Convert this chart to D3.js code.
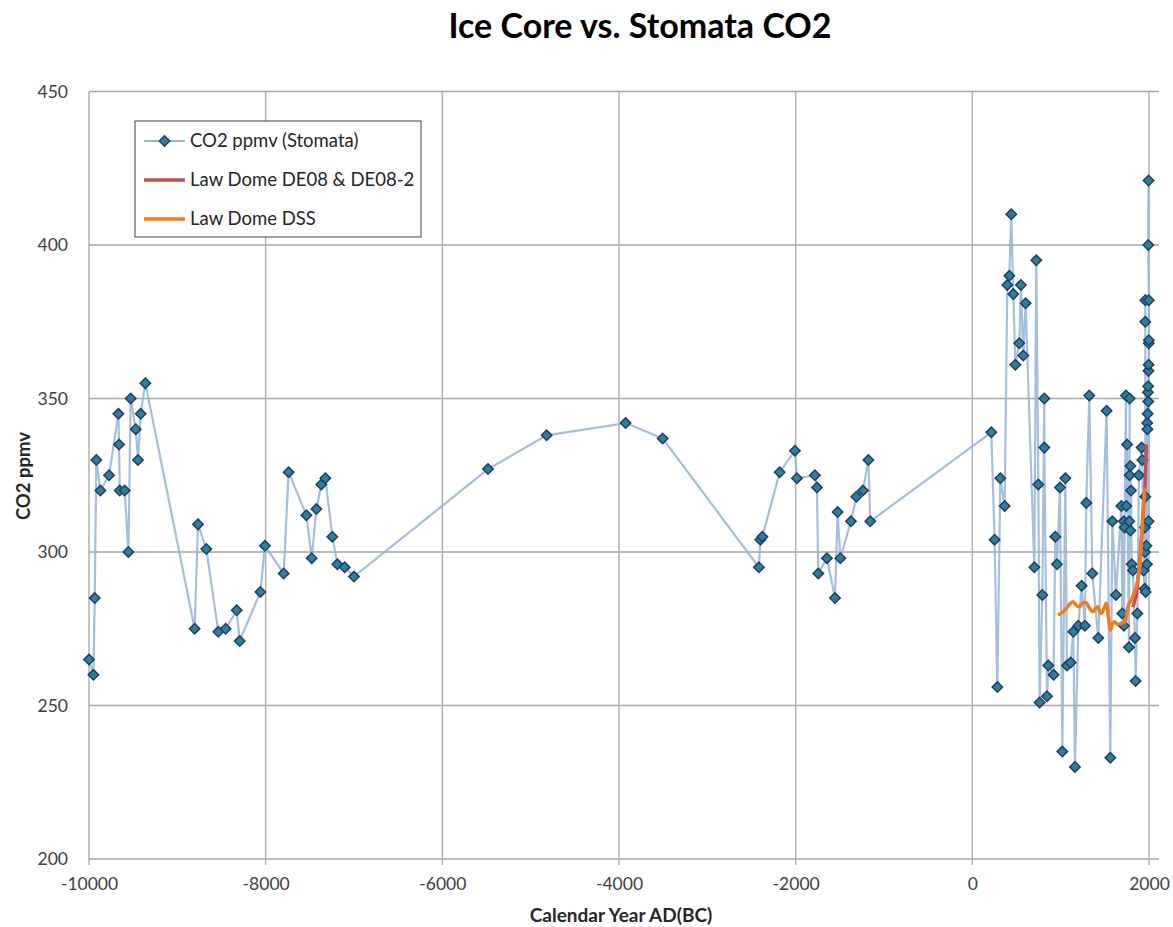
<!DOCTYPE html>
<html>
<head>
<meta charset="utf-8">
<script src="https://cdn.jsdelivr.net/npm/d3@7"></script>
<style>
  body { margin: 0; background: #fff; }
  svg { font-family: Lato, "Open Sans", sans-serif; }
</style>
</head>
<body>
<div class="chart"></div>
<script>
// data

var stomataYear = [-10000, -9950, -9935, -9917, -9871, -9773, -9667, -9660, -9652, -9596,
  -9554, -9528, -9471, -9445, -9415, -9362, -8804, -8766, -8672, -8536,
  -8453, -8328, -8294, -8060, -8008, -7796, -7740, -7539, -7479, -7426,
  -7370, -7324, -7245, -7188, -7105, -7000, -5483, -4819, -3925, -3506,
  -2416, -2400, -2377, -2181, -2008, -1985, -1782, -1759, -1744, -1646,
  -1555, -1525, -1494, -1374, -1313, -1238, -1177, -1155,
  215, 252, 283, 317, 366, 396, 419, 441, 464, 487,
  532, 550, 577, 603, 702, 724, 747, 762, 792, 815,
  815, 845, 860, 920, 939, 958, 992, 1019, 1053, 1071,
  1113, 1143, 1162, 1200, 1237, 1275, 1290, 1324, 1358, 1426,
  1520, 1562, 1585, 1626, 1687, 1698, 1716, 1716, 1724, 1739,
  1743, 1752, 1773, 1777, 1781, 1781, 1789, 1789, 1796, 1804,
  1818, 1841, 1849, 1868, 1886, 1917, 1924, 1939, 1951, 1954,
  1954, 1958, 1958, 1958, 1962, 1970, 1977, 1980, 1982, 1985,
  1988, 1990, 1992, 1994, 1995, 1996, 1997, 1998, 1998, 1992, 1995];

var stomataCO2 = [265, 260, 285, 330, 320, 325, 345, 335, 320, 320,
  300, 350, 340, 330, 345, 355, 275, 309, 301, 274,
  275, 281, 271, 287, 302, 293, 326, 312, 298, 314,
  322, 324, 305, 296, 295, 292, 327, 338, 342, 337,
  295, 304, 305, 326, 333, 324, 325, 321, 293, 298,
  285, 313, 298, 310, 318, 320, 330, 310,
  339, 304, 256, 324, 315, 387, 390, 410, 384, 361,
  368, 387, 364, 381, 295, 395, 322, 251, 286, 350,
  334, 253, 263, 260, 305, 296, 321, 235, 324, 263,
  264, 274, 230, 276, 289, 276, 316, 351, 293, 272,
  346, 233, 310, 286, 315, 280, 310, 276, 308, 351,
  315, 335, 269, 310, 350, 325, 307, 328, 320, 296,
  294, 272, 258, 280, 325, 334, 330, 294, 288, 308,
  300, 318, 382, 375, 287, 302, 296, 342, 340, 345,
  352, 354, 349, 359, 361, 310, 368, 369, 382, 400, 421];

var de08Year = [1818, 1837, 1856, 1875, 1894, 1913, 1930, 1943, 1955, 1962, 1970];
var de08CO2 = [282, 284, 286, 291, 296, 304, 310, 317, 322, 328, 335];

var dssYear = [969, 1000, 1060, 1100, 1139, 1180, 1215, 1250, 1290, 1330, 1365, 1395, 1422, 1440,
  1460, 1490, 1517, 1540, 1562, 1585, 1611, 1640, 1668, 1700, 1732, 1762, 1800, 1830,
  1856, 1876, 1894, 1910, 1924, 1939, 1955];
var dssCO2 = [279.5, 280, 281.5, 283, 283.8, 282.5, 282.2, 283.5, 283.5, 281.5, 280.6, 281.5, 282.2, 280.5,
  280, 281.5, 283.3, 279, 274.6, 276.5, 277.3, 276.5, 276.6, 277, 277.3, 282.2, 284.4, 286.5,
  288.7, 291.5, 295.2, 301, 309.3, 315.9, 321];

var xTicks = [-10000, -8000, -6000, -4000, -2000, 0, 2000];
var yTicks = [200, 250, 300, 350, 400, 450];

var width = 1173,
    height = 927;

// plot box
var padLeft = 89, padRight = 1149, padTop = 91.5, padBottom = 859;

var svg = d3.select('.chart').append('svg')
    .attr('width', width)
    .attr('height', height);

var x = d3.scaleLinear().domain([-10000, 2000]).range([padLeft, padRight]);
var y = d3.scaleLinear().domain([200, 450]).range([padBottom, padTop]);

// gridlines
svg.append('g').selectAll('line')
    .data(yTicks)
  .enter().append('line')
    .attr('x1', padLeft).attr('x2', padRight + 10)
    .attr('y1', function(d) { return y(d); })
    .attr('y2', function(d) { return y(d); })
    .attr('stroke', '#a6a6a6')
    .attr('stroke-width', 1.5);

svg.append('g').selectAll('line')
    .data(xTicks)
  .enter().append('line')
    .attr('x1', function(d) { return x(d); })
    .attr('x2', function(d) { return x(d); })
    .attr('y1', padTop).attr('y2', padBottom + 6)
    .attr('stroke', '#b0b0b0')
    .attr('stroke-width', 1.5);

// axes, only for the labels
var fmt = function(d) { return String(d); };
var xAxis = svg.append('g')
    .attr('transform', 'translate(0,' + (padBottom + 16) + ')')
    .call(d3.axisBottom(x).tickValues(xTicks).tickSize(0).tickFormat(fmt));
var yAxis = svg.append('g')
    .attr('transform', 'translate(' + (padLeft - 18) + ',0)')
    .call(d3.axisLeft(y).tickValues(yTicks).tickSize(0).tickFormat(fmt));

[xAxis, yAxis].forEach(function(a) {
  a.select('.domain').remove();
  a.selectAll('text')
    .attr('fill', '#404040')
    .style('font-size', '17.5px')
    .style('font-family', 'Lato, "Open Sans", sans-serif');
});

// stomata series
var pts = stomataYear.map(function(d, i) { return [d, stomataCO2[i]]; });

var line = d3.line()
    .x(function(d) { return x(d[0]); })
    .y(function(d) { return y(d[1]); });

svg.append('path')
    .datum(pts)
    .attr('d', line)
    .attr('fill', 'none')
    .attr('stroke', '#95b3d7')
    .attr('stroke-width', 2.2)
    .attr('stroke-opacity', 0.85);

var diamond = d3.symbol().type(d3.symbolSquare).size(54);

svg.append('g').selectAll('path')
    .data(pts)
  .enter().append('path')
    .attr('d', diamond)
    .attr('transform', function(d) {
      return 'translate(' + x(d[0]) + ',' + y(d[1]) + ') rotate(45)';
    })
    .attr('fill', '#2f7f9c')
    .attr('stroke', '#1d3f66')
    .attr('stroke-width', 1.5);

// law dome lines
var de08 = de08Year.map(function(d, i) { return [d, de08CO2[i]]; });
var dss = dssYear.map(function(d, i) { return [d, dssCO2[i]]; });

var smooth = d3.line()
    .x(function(d) { return x(d[0]); })
    .y(function(d) { return y(d[1]); })
    .curve(d3.curveMonotoneX);

svg.append('path')
    .datum(de08)
    .attr('d', smooth)
    .attr('fill', 'none')
    .attr('stroke', '#c0504d')
    .attr('stroke-width', 3.5);

svg.append('path')
    .datum(dss)
    .attr('d', smooth)
    .attr('fill', 'none')
    .attr('stroke', '#ef7d1f')
    .attr('stroke-width', 3.5);

// title and axis titles
svg.append('text')
    .attr('x', 640).attr('y', 38)
    .attr('text-anchor', 'middle')
    .style('font-size', '34px')
    .style('font-weight', 'bold')
    .attr('fill', '#000')
    .text('Ice Core vs. Stomata CO2');

svg.append('text')
    .attr('x', 621).attr('y', 922)
    .attr('text-anchor', 'middle')
    .style('font-size', '19px')
    .style('font-weight', 'bold')
    .attr('fill', '#262626')
    .text('Calendar Year AD(BC)');

svg.append('text')
    .attr('transform', 'translate(30,476) rotate(-90)')
    .attr('text-anchor', 'middle')
    .style('font-size', '18.5px')
    .style('font-weight', 'bold')
    .attr('fill', '#262626')
    .text('CO2 ppmv');

// legend
var legend = svg.append('g');
legend.append('rect')
    .attr('x', 135).attr('y', 121)
    .attr('width', 286).attr('height', 116)
    .attr('fill', '#fff')
    .attr('stroke', '#404040')
    .attr('stroke-width', 1);

var legendItems = [
  {label: 'CO2 ppmv (Stomata)', color: '#95b3d7', w: 2, marker: true},
  {label: 'Law Dome DE08 & DE08-2', color: '#c0504d', w: 3.5},
  {label: 'Law Dome DSS', color: '#ef7d1f', w: 3.5}
];

legendItems.forEach(function(item, i) {
  var ly = 141 + i * 39;
  legend.append('line')
      .attr('x1', 144).attr('x2', 185)
      .attr('y1', ly).attr('y2', ly)
      .attr('stroke', item.color)
      .attr('stroke-width', item.w);
  if (item.marker) {
    legend.append('path')
        .attr('d', diamond)
        .attr('transform', 'translate(164.5,' + ly + ') rotate(45)')
        .attr('fill', '#2f7f9c')
        .attr('stroke', '#1d3f66')
        .attr('stroke-width', 1.5);
  }
  legend.append('text')
      .attr('x', 190).attr('y', ly)
      .attr('dy', '0.35em')
      .style('font-size', '18.5px')
      .attr('fill', '#262626')
      .text(item.label);
});
</script>
</body>
</html>
